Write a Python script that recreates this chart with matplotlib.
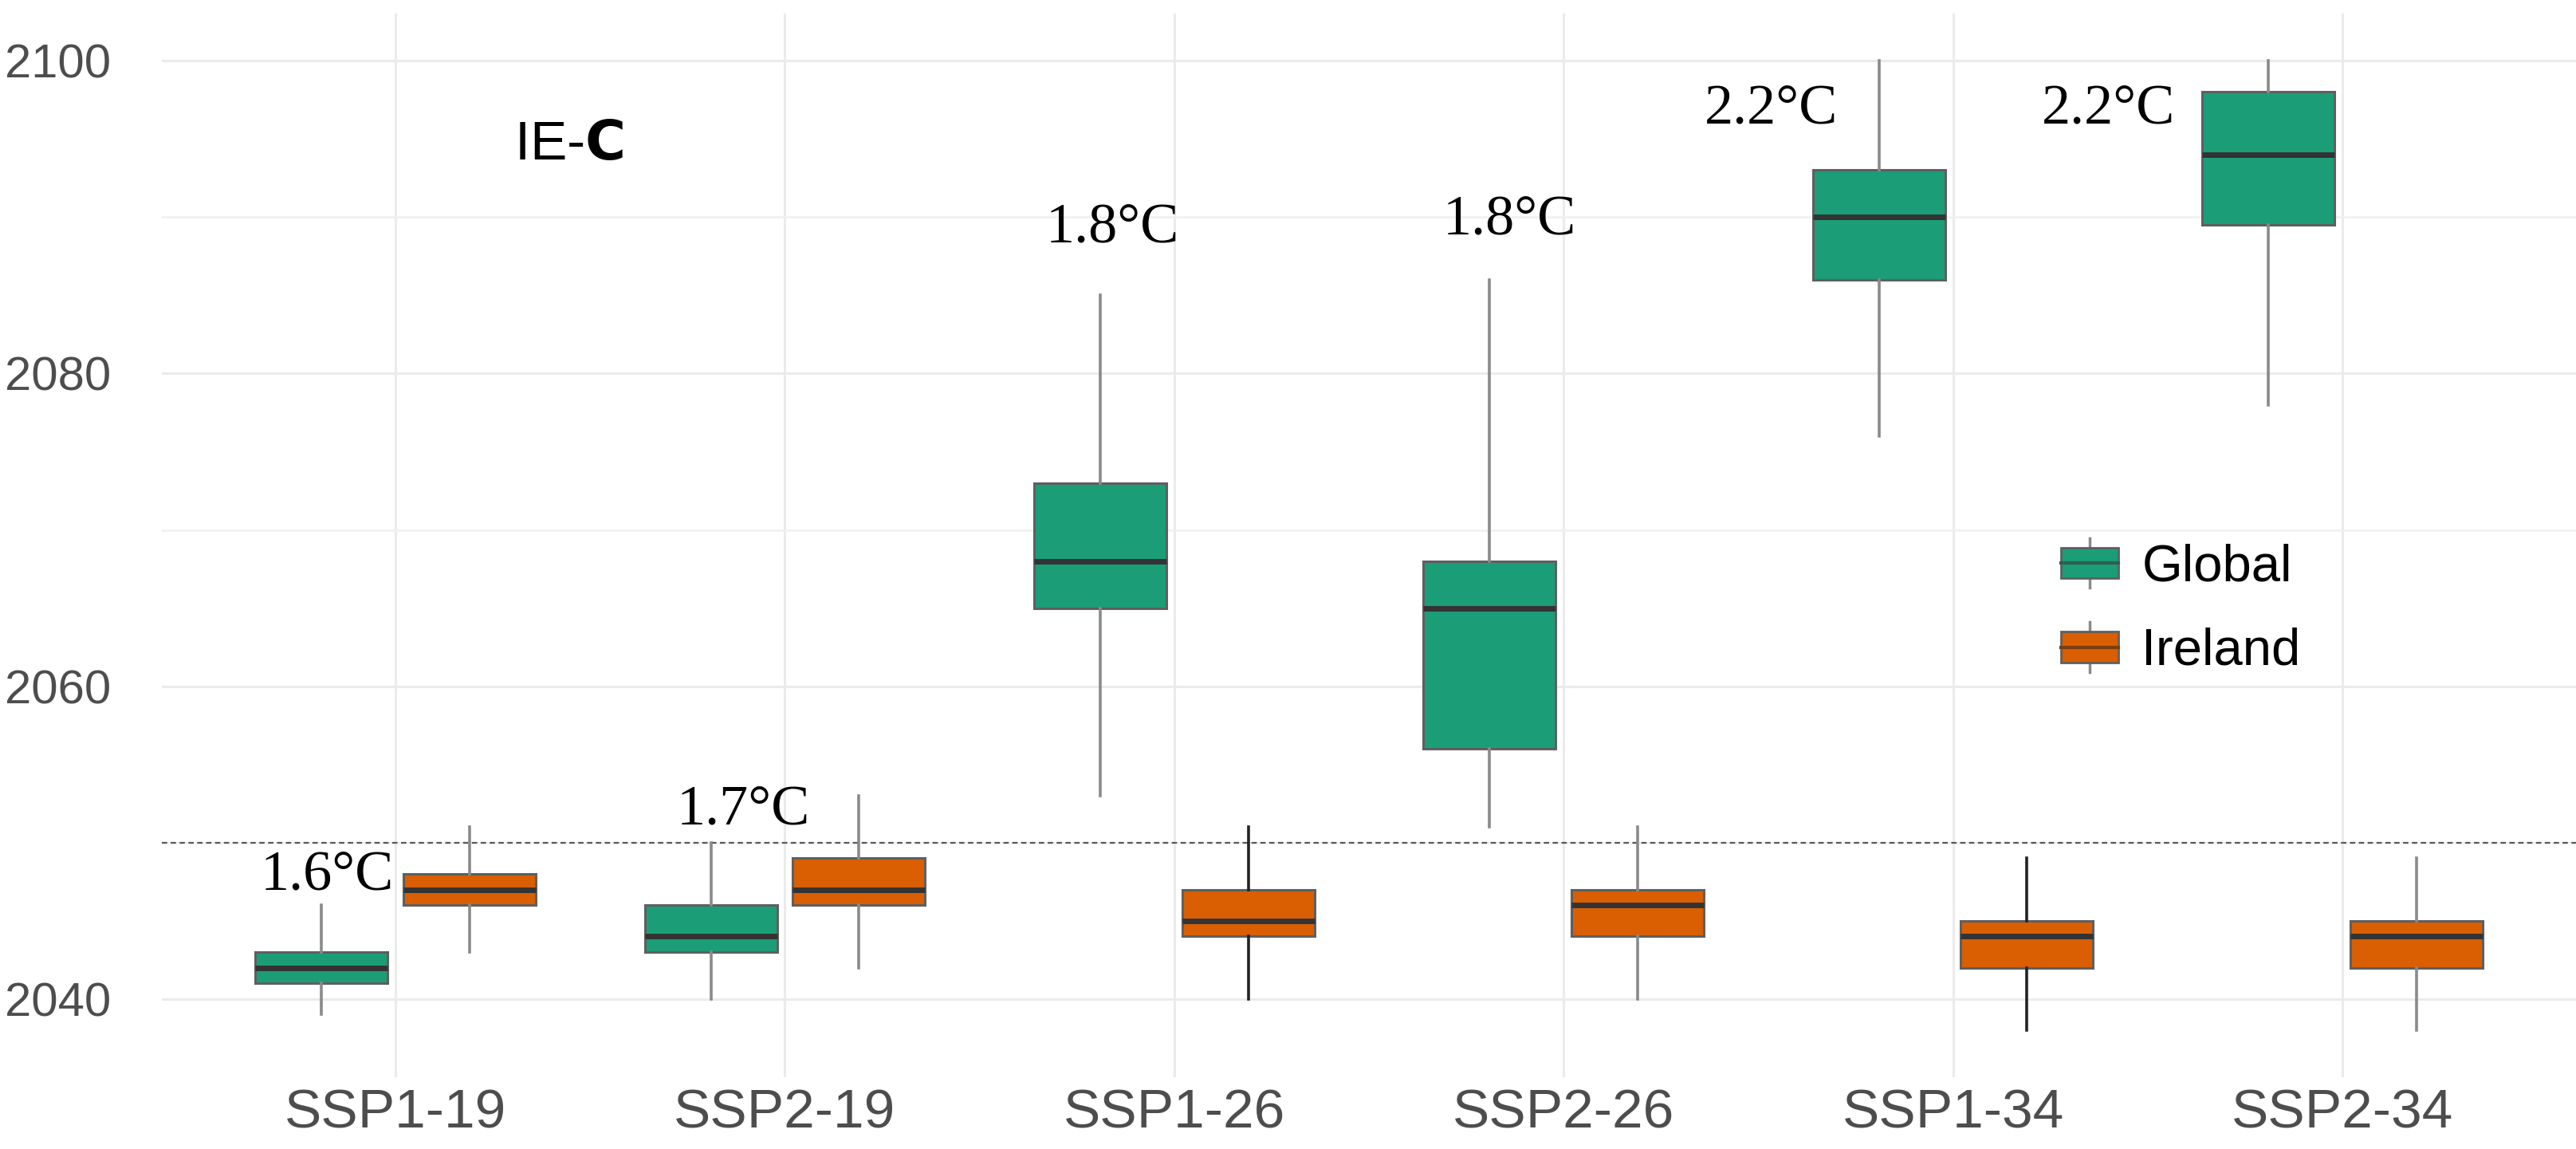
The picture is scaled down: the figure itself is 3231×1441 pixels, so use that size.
import matplotlib
matplotlib.use("Agg")
import matplotlib.pyplot as plt
from matplotlib.patches import Rectangle
from matplotlib.lines import Line2D
from matplotlib.legend_handler import HandlerBase

# data (years)
scenarios = ["SSP1-19", "SSP2-19", "SSP1-26", "SSP2-26", "SSP1-34", "SSP2-34"]
# whisker low, q1, median, q3, whisker high
global_lo = [2039, 2040, 2053, 2051, 2076, 2078]
global_q1 = [2041, 2043, 2065, 2056, 2086, 2089.5]
global_med = [2042, 2044, 2068, 2065, 2090, 2094]
global_q3 = [2043, 2046, 2073, 2068, 2093, 2098]
global_hi = [2046, 2050, 2085, 2086, 2100, 2100]

ireland_lo = [2043, 2042, 2040, 2040, 2038, 2038]
ireland_q1 = [2046, 2046, 2044, 2044, 2042, 2042]
ireland_med = [2047, 2047, 2045, 2046, 2044, 2044]
ireland_q3 = [2048, 2049, 2047, 2047, 2045, 2045]
ireland_hi = [2051, 2053, 2051, 2051, 2049, 2049]

temp_labels = ["1.6°C", "1.7°C", "1.8°C", "1.8°C", "2.2°C", "2.2°C"]
temp_x = [0.825, 1.894, 2.842, 3.861, 4.534, 5.40]
temp_y = [2047.9, 2052.1, 2089.3, 2089.8, 2096.9, 2096.9]

GREEN = "#1b9e77"
ORANGE = "#d95f02"

fig = plt.figure(figsize=(32.31, 14.41), dpi=100)
ax = fig.add_axes([0.0628, 0.0625, 0.9372, 0.9255])

offset = 0.19
width = 0.34
ireland_whisk = ["#8a8a8a", "#8a8a8a", "#222222", "#8a8a8a", "#222222", "#8a8a8a"]


def draw_boxes(xs, lo, q1, med, q3, hi, color, wcolors):
    stats = []
    for i in range(len(xs)):
        stats.append(dict(whislo=lo[i], q1=q1[i], med=med[i], q3=q3[i], whishi=hi[i], fliers=[]))
    bp = ax.bxp(stats, positions=xs, widths=width, patch_artist=True, showcaps=False,
                manage_ticks=False, zorder=3,
                boxprops=dict(facecolor=color, edgecolor="#5f5f5f", linewidth=2.2),
                medianprops=dict(color="#333333", linewidth=5, solid_capstyle="butt"),
                whiskerprops=dict(color="#8a8a8a", linewidth=2.6))
    for j, wc in enumerate(wcolors):
        bp["whiskers"][2 * j].set_color(wc)
        bp["whiskers"][2 * j + 1].set_color(wc)
    return bp


pos = list(range(1, len(scenarios) + 1))
draw_boxes([p - offset for p in pos], global_lo, global_q1, global_med, global_q3, global_hi,
           GREEN, ["#8a8a8a"] * 6)
draw_boxes([p + offset for p in pos], ireland_lo, ireland_q1, ireland_med, ireland_q3, ireland_hi,
           ORANGE, ireland_whisk)

ax.axhline(2050, color="#5a5a5a", linestyle=(0, (3, 2)), linewidth=1.6, zorder=2)

for lab, x, y in zip(temp_labels, temp_x, temp_y):
    ax.text(x, y, lab, ha="center", va="center", fontsize=52,
            family=["Liberation Serif", "DejaVu Serif"], color="black", zorder=4)

ax.text(1.445, 2094.6, r"IE-$\mathbf{C}$", ha="center", va="center", fontsize=50,
        family="Liberation Sans", color="black")

ax.set_xlim(0.4, 6.6)
ax.set_ylim(2035, 2103)
ax.set_xticks(pos)
ax.set_xticklabels(scenarios)
ax.set_yticks([2040, 2060, 2080, 2100])
ax.set_yticks([2050, 2070, 2090], minor=True)
ax.tick_params(axis="both", which="both", length=0, labelcolor="#4d4d4d")
ax.tick_params(axis="x", labelsize=50, pad=10)
ax.tick_params(axis="y", labelsize=43, pad=46)
for lbl in ax.get_xticklabels() + ax.get_yticklabels():
    lbl.set_family("Liberation Sans")
ax.grid(True, which="major", color="#ebebeb", linewidth=2.2, zorder=0)
ax.grid(True, which="minor", axis="y", color="#f0f0f0", linewidth=1.8, zorder=0)
ax.set_axisbelow(True)
for s in ax.spines.values():
    s.set_visible(False)


class BoxKey(HandlerBase):
    def create_artists(self, legend, orig_handle, xdescent, ydescent, width, height, fontsize, trans):
        fc = orig_handle.get_facecolor()
        bh = height * 0.62
        by = (height - bh) / 2 - ydescent
        bx = -xdescent
        rect = Rectangle((bx, by), width, bh, facecolor=fc, edgecolor="#5f5f5f", linewidth=2,
                         transform=trans)
        med = Line2D([bx, bx + width], [by + bh / 2] * 2, color="#2f5f4f" if fc[1] > 0.5 else "#7a3f10",
                     linewidth=3, transform=trans)
        w1 = Line2D([bx + width / 2] * 2, [by + bh, -ydescent + height], color="#8a8a8a",
                    linewidth=2.5, transform=trans)
        w2 = Line2D([bx + width / 2] * 2, [-ydescent, by], color="#8a8a8a", linewidth=2.5,
                    transform=trans)
        return [w1, w2, rect, med]


handles = [Rectangle((0, 0), 1, 1, facecolor=GREEN), Rectangle((0, 0), 1, 1, facecolor=ORANGE)]
leg = fig.legend(handles, ["Global", "Ireland"], handler_map={Rectangle: BoxKey()},
                 loc="center left", bbox_to_anchor=(0.790, 0.472), frameon=False,
                 prop={"family": "Liberation Sans", "size": 47}, handlelength=1.1,
                 handleheight=1.1, handletextpad=0.45, labelspacing=0.6, borderpad=0)

fig.savefig("out.png", dpi=100)
